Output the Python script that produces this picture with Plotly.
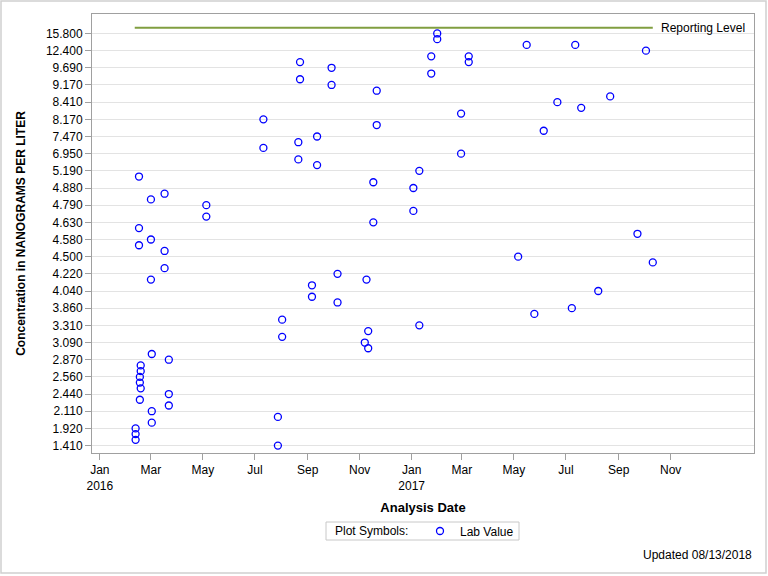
import plotly.graph_objects as go

# Discrete concentration levels of the y axis (bottom to top)
levels = [
    "1.410", "1.580", "1.750", "1.920", "1.980", "2.050", "2.110", "2.220", "2.330",
    "2.440", "2.480", "2.520", "2.560", "2.660", "2.770", "2.870", "2.940", "3.020",
    "3.090", "3.160", "3.240", "3.310", "3.490", "3.680", "3.860", "3.920", "3.980",
    "4.040", "4.100", "4.160", "4.220", "4.310", "4.410", "4.500", "4.530", "4.550",
    "4.580", "4.600", "4.610", "4.630", "4.680", "4.740", "4.790", "4.820", "4.850",
    "4.880", "4.980", "5.090", "5.190", "5.780", "6.360", "6.950", "7.120", "7.300",
    "7.470", "7.700", "7.940", "8.170", "8.250", "8.330", "8.410", "8.660", "8.920",
    "9.170", "9.340", "9.520", "9.690", "10.600", "11.500", "12.400", "13.500",
    "14.700", "15.800", "20.000",
]

# Labeled tick values on the y axis
tick_labels = [
    "1.410", "1.920", "2.110", "2.440", "2.560", "2.870", "3.090", "3.310", "3.860",
    "4.040", "4.220", "4.500", "4.580", "4.630", "4.790", "4.880", "5.190", "6.950",
    "7.470", "8.170", "8.410", "9.170", "9.690", "12.400", "15.800",
]

# X tick positions and labels
x_tick_dates = [
    "2016-01-01", "2016-03-01", "2016-05-01", "2016-07-01", "2016-09-01", "2016-11-01",
    "2017-01-01", "2017-03-01", "2017-05-01", "2017-07-01", "2017-09-01", "2017-11-01",
]
x_tick_text = [
    "Jan<br>2016", "Mar", "May", "Jul", "Sep", "Nov",
    "Jan<br>2017", "Mar", "May", "Jul", "Sep", "Nov",
]

# Lab values: analysis dates and concentrations
dates = [
    "2016-02-16", "2016-03-01", "2016-03-17", "2016-05-05", "2016-05-05", "2016-02-16",
    "2016-03-01", "2016-02-16", "2016-03-17", "2016-03-17", "2016-03-01", "2016-03-02",
    "2016-03-22", "2016-02-18", "2016-02-18", "2016-02-17", "2016-02-17", "2016-02-18",
    "2016-02-17", "2016-03-22", "2016-03-22", "2016-03-02", "2016-03-02", "2016-02-12",
    "2016-02-12", "2016-02-12",
    "2017-01-31", "2017-01-31", "2016-08-23", "2016-09-29", "2016-08-23", "2016-09-29",
    "2016-11-21", "2017-01-24", "2017-01-24", "2017-03-09", "2017-03-09", "2017-02-28",
    "2016-07-11", "2016-11-21", "2016-09-12", "2016-08-21", "2016-07-11", "2017-02-28",
    "2016-08-21", "2016-09-12", "2017-01-10", "2016-11-17", "2017-01-03", "2017-01-03",
    "2016-11-17",
    "2017-05-06", "2016-10-06", "2016-11-09", "2016-09-06", "2016-09-06", "2016-10-06",
    "2016-08-02", "2016-08-02", "2016-11-11", "2017-01-10", "2016-11-07", "2016-11-11",
    "2016-07-28", "2016-07-28",
    "2017-05-16", "2017-07-12", "2017-10-03", "2017-08-22", "2017-06-21", "2017-07-19",
    "2017-06-05", "2017-09-23", "2017-10-11", "2017-08-08", "2017-07-08", "2017-05-25",
]
values = [
    "5.090", "4.820", "4.850", "4.790", "4.680", "4.610",
    "4.580", "4.550", "4.530", "4.310", "4.160", "2.940",
    "2.870", "2.770", "2.660", "2.560", "2.520", "2.480",
    "2.330", "2.440", "2.220", "2.110", "1.980", "1.920",
    "1.750", "1.580",
    "15.800", "14.700", "10.600", "9.690", "9.340", "9.170",
    "8.920", "11.500", "9.520", "11.500", "10.600", "8.250",
    "8.170", "7.940", "7.470", "7.300", "7.120", "6.950",
    "6.360", "5.780", "5.190", "4.980", "4.880", "4.740",
    "4.630",
    "4.500", "4.220", "4.160", "4.100", "3.980", "3.920",
    "3.490", "3.160", "3.240", "3.310", "3.090", "3.020",
    "2.050", "1.410",
    "13.500", "13.500", "12.400", "8.660", "8.410", "8.330",
    "7.700", "4.600", "4.410", "4.040", "3.860", "3.680",
]

report_dates = ["2016-02-11", "2017-10-11"]
report_level = ["20.000", "20.000"]

W, H = 768, 576
ml, mr, mt, mb = 92, 14, 14, 123
pw, ph = W - ml - mr, H - mt - mb


def px_x(px):
    return (px - ml) / pw


def px_y(py):
    return (H - mb - py) / ph


fig = go.Figure()

fig.add_trace(go.Scatter(
    x=report_dates, y=report_level, mode="lines",
    line=dict(color="rgb(128,158,64)", width=2),
    showlegend=False, hoverinfo="skip",
))

fig.add_trace(go.Scatter(
    x=dates, y=values, mode="markers", name="Lab Value",
    marker=dict(symbol="circle-open", size=7, color="#0000FF",
                line=dict(width=1.3, color="#0000FF")),
))

fig.add_annotation(
    x=report_dates[-1], y=levels.index(report_level[-1]), xref="x", yref="y",
    text="Reporting Level", showarrow=False, xanchor="left", xshift=6,
    font=dict(size=12, color="#000000"),
)

fig.add_annotation(
    x=1.0, y=px_y(555), xref="paper", yref="paper", xanchor="right", yanchor="middle",
    text="Updated 08/13/2018", showarrow=False, font=dict(size=12, color="#000000"),
)

# legend box and its label
fig.add_shape(
    type="rect", xref="paper", yref="paper",
    x0=px_x(326), x1=px_x(519), y0=px_y(540), y1=px_y(522),
    line=dict(color="#C8C8C8", width=1),
)
fig.add_annotation(
    x=px_x(333), y=px_y(531), xref="paper", yref="paper", xanchor="left", yanchor="middle",
    text="Plot Symbols:", showarrow=False, font=dict(size=12, color="#000000"),
)

# outer frame around whole image
fig.add_shape(
    type="rect", xref="paper", yref="paper",
    x0=px_x(1), x1=px_x(W - 2), y0=px_y(H - 3), y1=px_y(1),
    line=dict(color="#D0D0D0", width=1.5), layer="below",
)

fig.update_layout(
    width=W, height=H,
    margin=dict(l=ml, r=mr, t=mt, b=mb),
    paper_bgcolor="white", plot_bgcolor="white",
    font=dict(family="Liberation Sans, Arial, sans-serif", size=12, color="#000000"),
    legend=dict(
        orientation="h", x=px_x(420), xanchor="left", y=px_y(531), yanchor="middle",
        bgcolor="rgba(0,0,0,0)", borderwidth=0, font=dict(size=12),
        itemwidth=30,
    ),
    showlegend=True,
)

fig.update_xaxes(
    type="date", range=["2015-12-22 20:00", "2018-02-06 19:00"],
    tickmode="array", tickvals=x_tick_dates, ticktext=x_tick_text, tickangle=0,
    ticks="outside", ticklen=6, tickcolor="#A0A0A0",
    showline=True, linecolor="#A0A0A0", mirror=True, showgrid=False, zeroline=False,
    title=dict(text="<b>Analysis Date</b>", font=dict(size=13), standoff=10),
    tickfont=dict(size=12),
)

fig.update_yaxes(
    type="category", categoryorder="array", categoryarray=levels,
    range=[-1.3, 75.4],
    tickmode="array", tickvals=tick_labels, ticktext=tick_labels,
    ticks="outside", ticklen=6, tickcolor="#A0A0A0",
    showline=True, linecolor="#A0A0A0", mirror=True,
    showgrid=True, gridcolor="#E3E3E3", zeroline=False,
    title=dict(text="<b>Concentration in NANOGRAMS PER LITER</b>", font=dict(size=12), standoff=17),
    tickfont=dict(size=12),
)

fig.write_html("out.html")
